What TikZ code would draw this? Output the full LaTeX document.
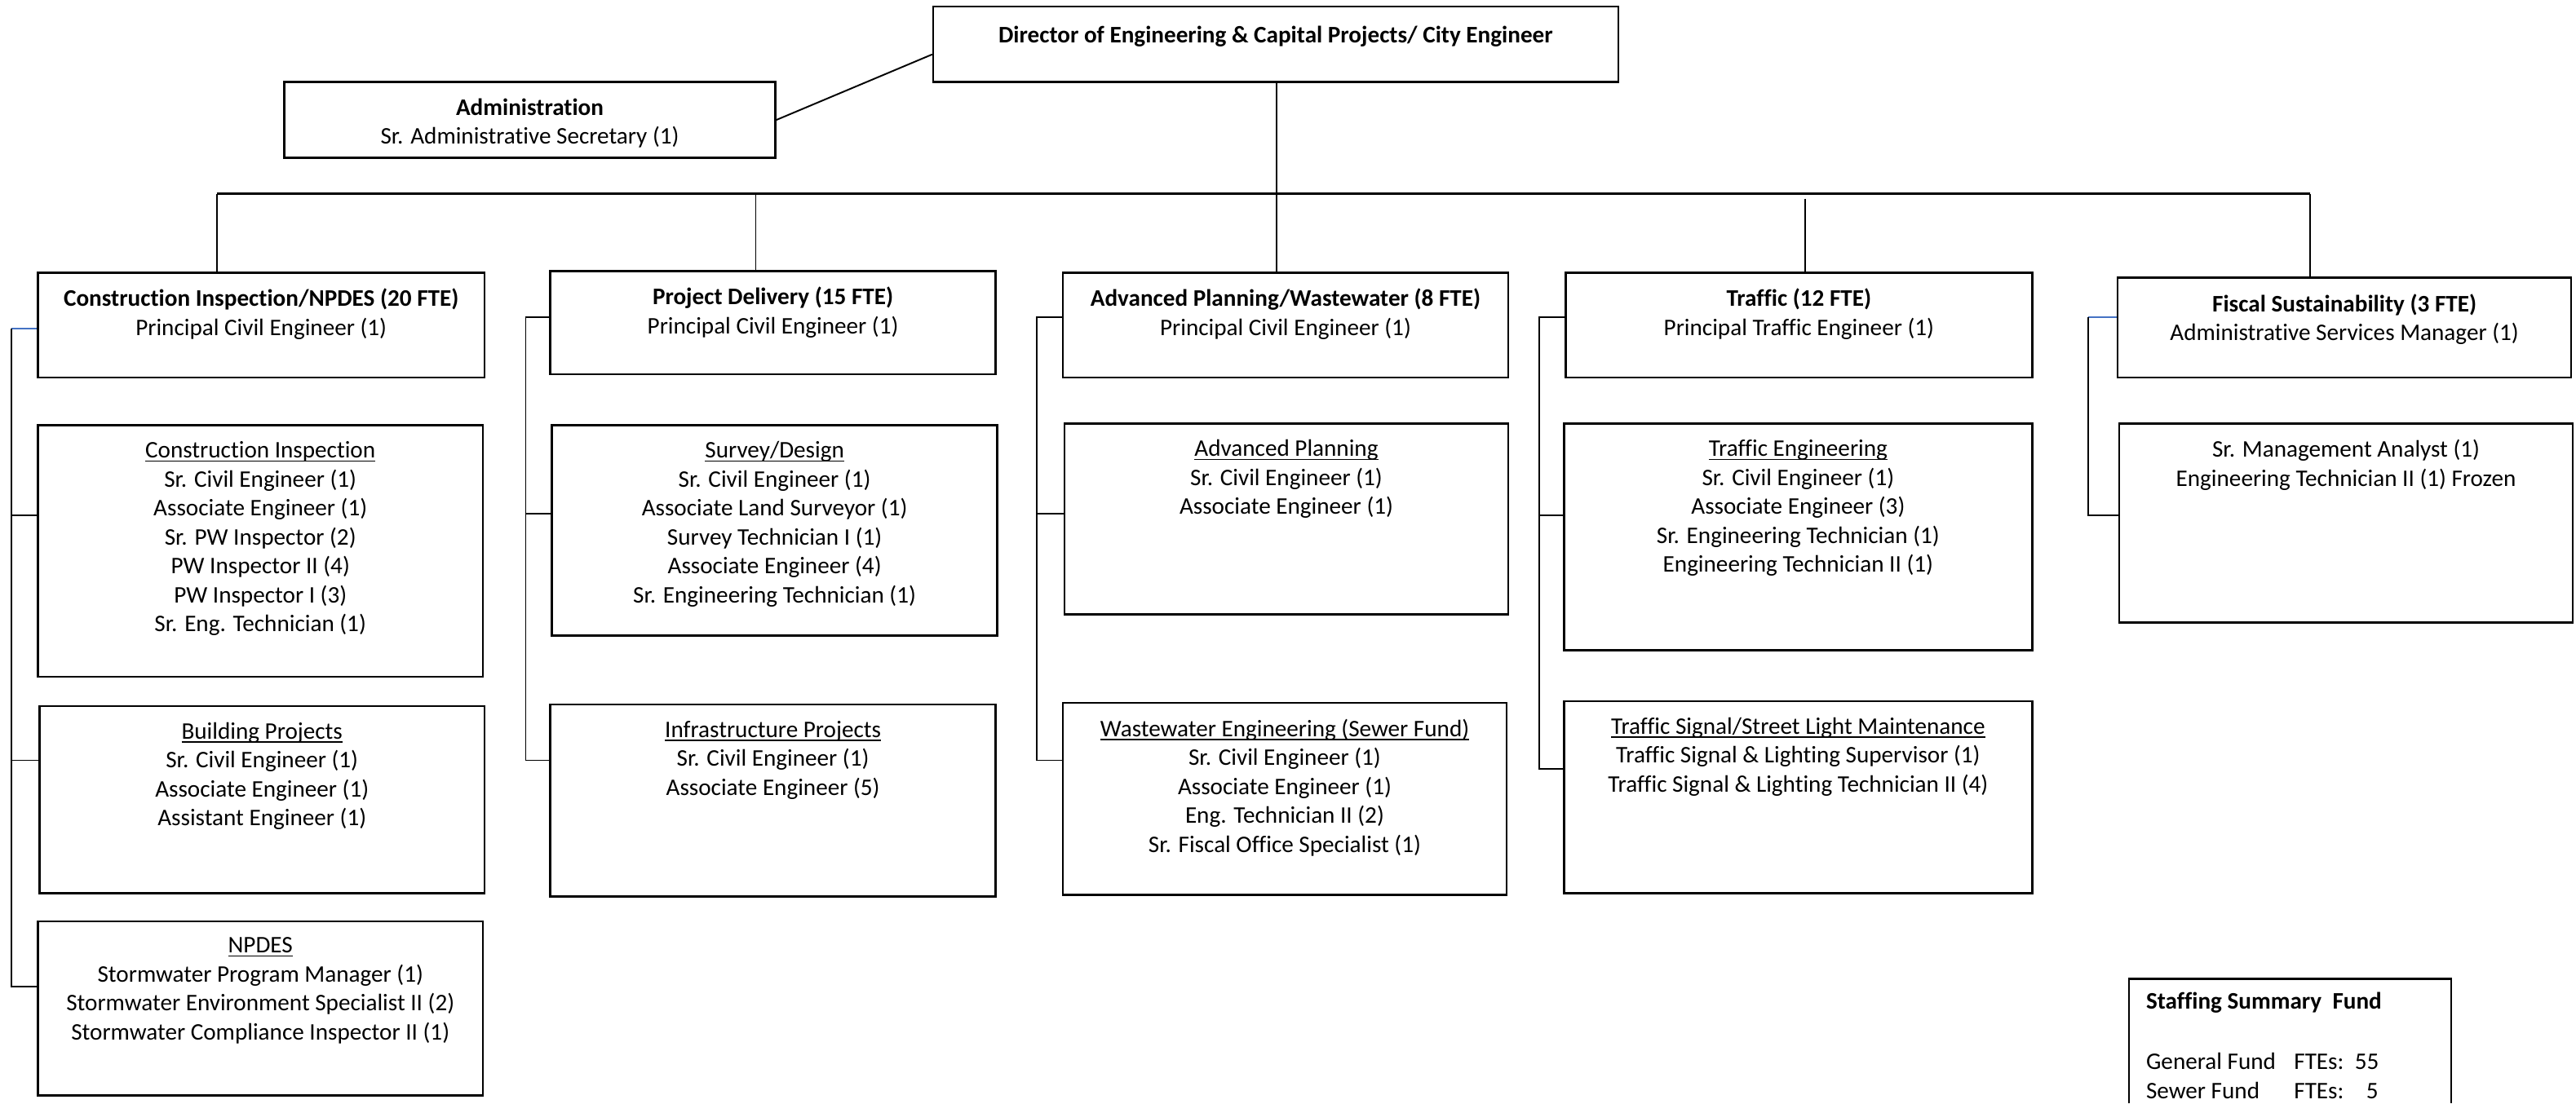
\documentclass[tikz,border=0pt]{standalone}
\usepackage{fontspec}
\setmainfont{Carlito}[Ligatures=NoCommon]
\usetikzlibrary{fit,calc}
\definecolor{stubblue}{HTML}{4472C4}
\newcommand\ulhead[1]{\setbox0\hbox{#1}\rlap{\rule[-1.3pt]{\wd0}{0.45pt}}\box0}
\newcommand\orgbox[6]{%
  \coordinate (#1-nw) at (#2,#3);
  \coordinate (#1-se) at (#4,#5);
  \node[boxst, fit=(#1-nw)(#1-se)] (#1) {};
  \node[txtst] (#1-t) at ([yshift=-0.205cm]#1.north) {#6};}
\begin{document}
\begin{tikzpicture}[x=0.02014cm, y=-0.02014cm,
  boxst/.style={draw, line width=0.7pt, rectangle, inner sep=0pt},
  txtst/.style={anchor=north, align=center, inner sep=0pt,
     font=\fontsize{8.3}{10.1}\selectfont, execute at begin node={\rule{0pt}{7.07pt}}},
  conn/.style={line width=0.55pt},
  spine/.style={line width=0.55pt},
  bus/.style={line width=0.85pt},
  bluestub/.style={line width=0.6pt, draw=stubblue}]
\useasboundingbox (0,0) rectangle (1568,672);

% top level
\orgbox{dir}{568}{4}{985}{50}{\textbf{Director of Engineering \& Capital Projects/ City Engineer}}
\orgbox{adm}{173}{50}{472}{96}{\textbf{Administration}\\Sr. Administrative Secretary (1)}

% column 1
\orgbox{c1h}{23}{166}{295}{230}{\textbf{Construction Inspection/NPDES (20 FTE)}\\Principal Civil Engineer (1)}
\orgbox{c1a}{23}{259}{294}{412}{\ulhead{Construction Inspection}\\Sr. Civil Engineer (1)\\Associate Engineer (1)\\Sr. PW Inspector (2)\\PW Inspector II (4)\\PW Inspector I (3)\\Sr. Eng. Technician (1)}
\orgbox{c1b}{24}{430}{295}{544}{\ulhead{Building Projects}\\Sr. Civil Engineer (1)\\Associate Engineer (1)\\Assistant Engineer (1)}
\orgbox{c1c}{23}{561}{294}{667}{\ulhead{NPDES}\\Stormwater Program Manager (1)\\Stormwater Environment Specialist II (2)\\Stormwater Compliance Inspector II (1)}

% column 2
\orgbox{c2h}{335}{165}{606}{228}{\textbf{Project Delivery (15 FTE)}\\Principal Civil Engineer (1)}
\orgbox{c2a}{336}{259}{607}{387}{\ulhead{Survey/Design}\\Sr. Civil Engineer (1)\\Associate Land Surveyor (1)\\Survey Technician I (1)\\Associate Engineer (4)\\Sr. Engineering Technician (1)}
\orgbox{c2b}{335}{429}{606}{546}{\ulhead{Infrastructure Projects}\\Sr. Civil Engineer (1)\\Associate Engineer (5)}

% column 3
\orgbox{c3h}{647}{166}{918}{230}{\textbf{Advanced Planning/Wastewater (8 FTE)}\\Principal Civil Engineer (1)}
\orgbox{c3a}{648}{258}{918}{374}{\ulhead{Advanced Planning}\\Sr. Civil Engineer (1)\\Associate Engineer (1)}
\orgbox{c3b}{647}{428}{917}{545}{\ulhead{Wastewater Engineering (Sewer Fund)}\\Sr. Civil Engineer (1)\\Associate Engineer (1)\\Eng. Technician II (2)\\Sr. Fiscal Office Specialist (1)}

% column 4
\orgbox{c4h}{953}{166}{1237}{230}{\textbf{Traffic (12 FTE)}\\Principal Traffic Engineer (1)}
\orgbox{c4a}{952}{258}{1237}{396}{\ulhead{Traffic Engineering}\\Sr. Civil Engineer (1)\\Associate Engineer (3)\\Sr. Engineering Technician (1)\\Engineering Technician II (1)}
\orgbox{c4b}{952}{427}{1237}{544}{\ulhead{Traffic Signal/Street Light Maintenance}\\Traffic Signal \& Lighting Supervisor (1)\\Traffic Signal \& Lighting Technician II (4)}

% column 5
\orgbox{c5h}{1289}{169}{1565}{230}{\textbf{Fiscal Sustainability (3 FTE)}\\Administrative Services Manager (1)}
\orgbox{c5a}{1290}{258}{1566}{379}{Sr. Management Analyst (1)\\Engineering Technician II (1) Frozen}

% staffing summary (box runs off the bottom edge)
\coordinate (sum-bl) at (1296,672);
\coordinate (sum-tl) at (1296,596);
\coordinate (sum-tr) at (1492,596);
\coordinate (sum-br) at (1492,672);
\draw[line width=0.7pt] (sum-bl) -- (sum-tl) -- (sum-tr) -- (sum-br);
\node[txtst, anchor=north west, align=left] (sum-t) at (1306,603.8)
  {\makebox[65pt][l]{\textbf{Staffing Summary}}\textbf{Fund}\\[11.1pt]
   \makebox[51.6pt][l]{General Fund}\makebox[21.2pt][l]{FTEs:}55\\
   \makebox[51.6pt][l]{Sewer Fund}\makebox[25.2pt][l]{FTEs:}5};

% connectors from the director
\draw[conn] (adm.east) -- ($(dir.north west)!0.63!(dir.south west)$);
\coordinate (bL) at (132,118);
\coordinate (bR) at (1406,118);
\coordinate (b2) at (460,118);
\coordinate (b3) at (777,118);
\coordinate (b4) at (1099,121);
\draw[bus] (bL) -- (bR);
\draw[conn] (dir.south -| b3) -- (b3);
\draw[conn] (bL) -- (bL |- c1h.north);
\draw[conn] (b2) -- (b2 |- c2h.north);
\draw[conn] (b3) -- (b3 |- c3h.north);
\draw[conn] (b4) -- (b4 |- c4h.north);
\draw[conn] (bR) -- (bR |- c5h.north);

% column 1 spine
\coordinate (s1t) at (7,200);
\coordinate (s1a) at (7,314);
\coordinate (s1b) at (7,463);
\coordinate (s1c) at (7,601);
\draw[bluestub] (s1t) -- (s1t -| c1h.west);
\draw[spine] (s1t) -- (s1c) -- (s1c -| c1c.west);
\draw[spine] (s1a) -- (s1a -| c1a.west);
\draw[spine] (s1b) -- (s1b -| c1b.west);

% column 2 spine
\coordinate (s2t) at (320,193);
\coordinate (s2a) at (320,313);
\coordinate (s2b) at (320,463);
\draw[spine] (s2t -| c2h.west) -- (s2t) -- (s2b) -- (s2b -| c2b.west);
\draw[spine] (s2a) -- (s2a -| c2a.west);

% column 3 spine
\coordinate (s3t) at (631,193);
\coordinate (s3a) at (631,313);
\coordinate (s3b) at (631,463);
\draw[spine] (s3t -| c3h.west) -- (s3t) -- (s3b) -- (s3b -| c3b.west);
\draw[spine] (s3a) -- (s3a -| c3a.west);

% column 4 spine
\coordinate (s4t) at (937,193);
\coordinate (s4a) at (937,314);
\coordinate (s4b) at (937,468);
\draw[spine] (s4t -| c4h.west) -- (s4t) -- (s4b) -- (s4b -| c4b.west);
\draw[spine] (s4a) -- (s4a -| c4a.west);

% column 5 spine
\coordinate (s5t) at (1271,193);
\coordinate (s5a) at (1271,314);
\draw[bluestub] (s5t) -- (s5t -| c5h.west);
\draw[spine] (s5t) -- (s5a) -- (s5a -| c5a.west);
\end{tikzpicture}
\end{document}
